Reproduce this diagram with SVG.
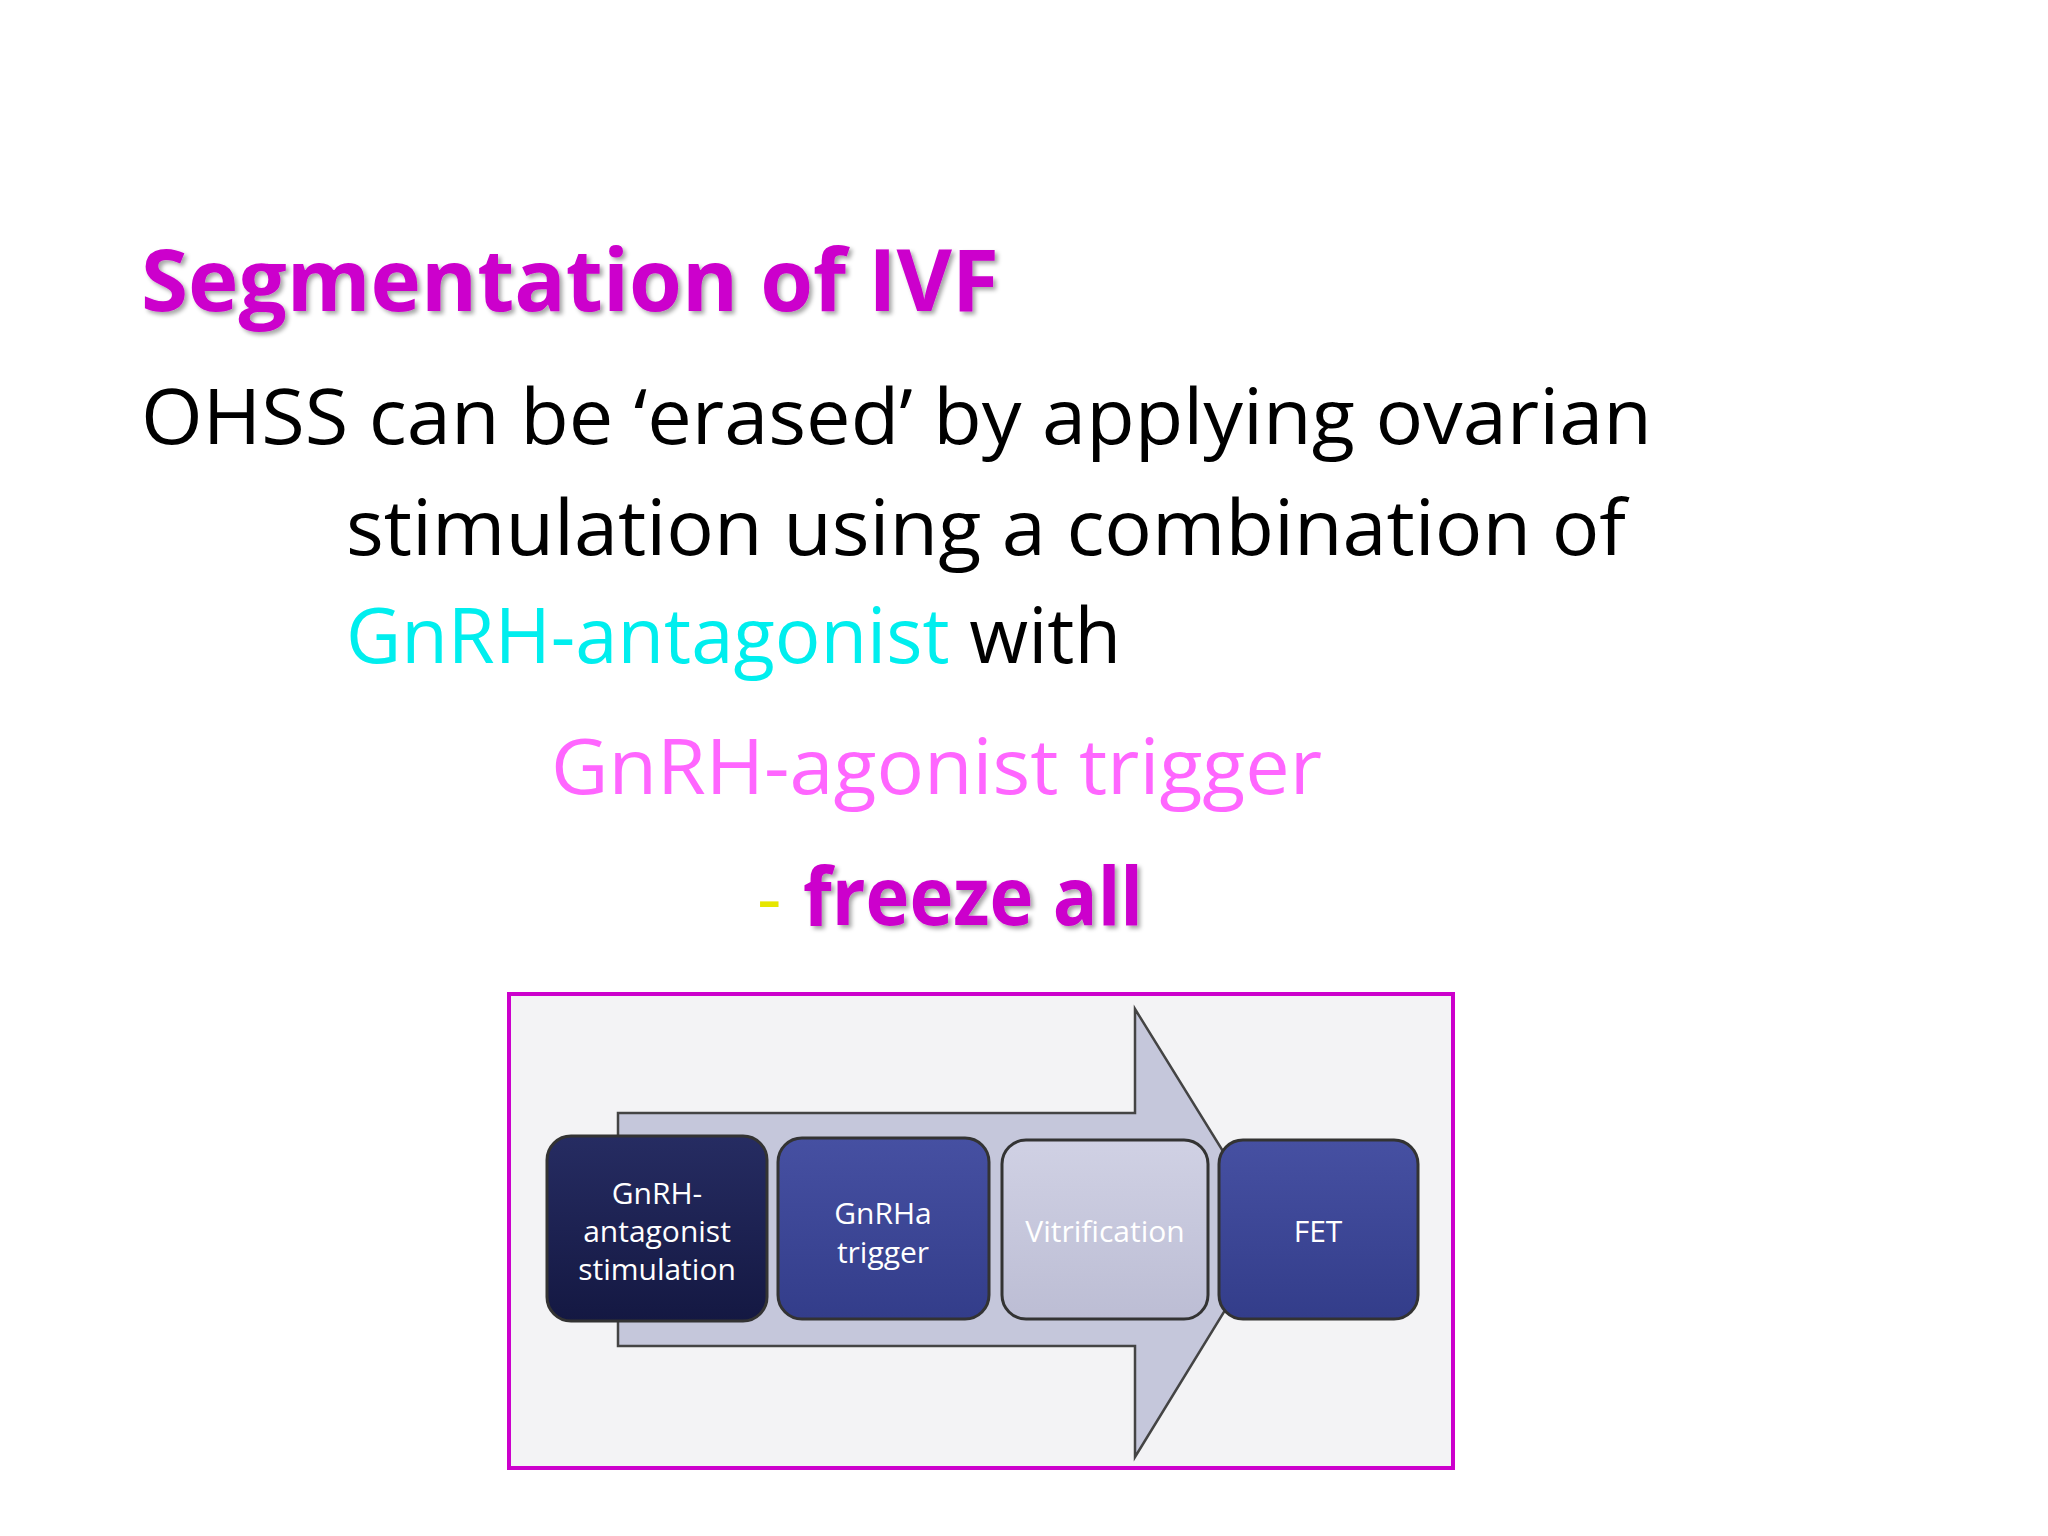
<svg xmlns="http://www.w3.org/2000/svg" width="2048" height="1536" viewBox="0 0 2048 1536">
<defs>
<filter id="sh" x="-5%" y="-5%" width="110%" height="120%"><feDropShadow dx="3" dy="3" stdDeviation="2" flood-color="#000" flood-opacity="0.35"/></filter>
<linearGradient id="g1" x1="0" y1="0" x2="0" y2="1"><stop offset="0" stop-color="#262c62"/><stop offset="1" stop-color="#141842"/></linearGradient>
<linearGradient id="g2" x1="0" y1="0" x2="0" y2="1"><stop offset="0" stop-color="#4650a2"/><stop offset="1" stop-color="#333d8a"/></linearGradient>
<linearGradient id="g3" x1="0" y1="0" x2="0" y2="1"><stop offset="0" stop-color="#d0d1e4"/><stop offset="1" stop-color="#bcbdd4"/></linearGradient>
</defs>
<style>
.t{font-family:"Open Sans","Liberation Sans",sans-serif;font-size:76px;fill:#000}
.b{font-family:"Open Sans","Liberation Sans",sans-serif;font-weight:bold;fill:#cc00cc}
.n{stroke:#333;stroke-width:3}
.nt{font-family:"Open Sans","Liberation Sans",sans-serif;font-size:30px;fill:#fff;text-anchor:middle}
</style>
<rect width="2048" height="1536" fill="#fff"/>
<text class="b" x="141" y="311" font-size="86" textLength="858" lengthAdjust="spacingAndGlyphs" filter="url(#sh)">Segmentation of IVF</text>
<text class="t" x="141" y="444" textLength="1511" lengthAdjust="spacingAndGlyphs">OHSS can be ‘erased’ by applying ovarian</text>
<text class="t" x="346" y="555" textLength="1280" lengthAdjust="spacingAndGlyphs">stimulation using a combination of</text>
<text class="t" x="346" y="663"><tspan fill="#00eeee">GnRH-antagonist</tspan> with</text>
<text class="t" x="551" y="794" fill="#ff66ff" style="fill:#ff66ff" textLength="771" lengthAdjust="spacingAndGlyphs">GnRH-agonist trigger</text>
<text class="t" x="757" y="925" style="fill:#e6e600">-</text>
<text class="b" x="803" y="925" font-size="80" textLength="340" lengthAdjust="spacingAndGlyphs" filter="url(#sh)">freeze all</text>
<rect x="509" y="994" width="944" height="474" fill="#f3f3f5" stroke="#cc00cc" stroke-width="4"/>
<g id="connectors">
<polygon points="618,1113 1135,1113 1135,1009 1273,1232 1135,1457 1135,1346 618,1346" fill="#c5c7db" stroke="#444" stroke-width="2.5"/>
</g>
<g id="n1"><rect class="n" x="547" y="1136" width="220" height="185" rx="24" fill="url(#g1)"/>
<text class="nt" x="657" y="1204">GnRH-</text><text class="nt" x="657" y="1242">antagonist</text><text class="nt" x="657" y="1280">stimulation</text></g>
<g id="n2"><rect class="n" x="778" y="1138" width="211" height="181" rx="24" fill="url(#g2)"/>
<text class="nt" x="883" y="1224">GnRHa</text><text class="nt" x="883" y="1263">trigger</text></g>
<g id="n3"><rect class="n" x="1002" y="1140" width="206" height="179" rx="24" fill="url(#g3)"/>
<text class="nt" x="1105" y="1242">Vitrification</text></g>
<g id="n4"><rect class="n" x="1219" y="1140" width="199" height="179" rx="24" fill="url(#g2)"/>
<text class="nt" x="1318" y="1242">FET</text></g>
</svg>
